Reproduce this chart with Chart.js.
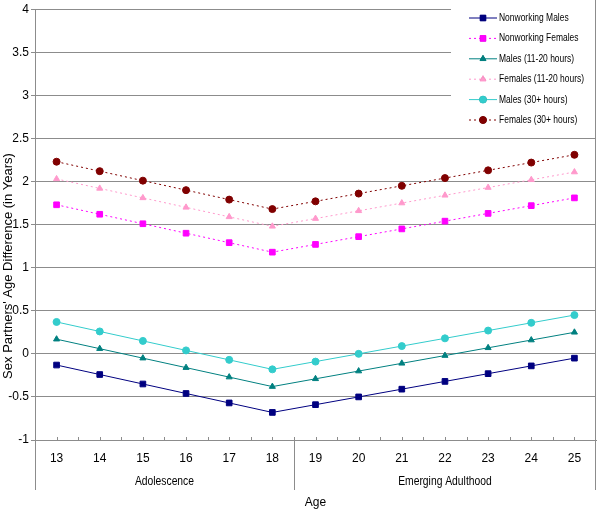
<!DOCTYPE html>
<html>
<head>
<meta charset="utf-8">
<script src="https://cdn.jsdelivr.net/npm/chart.js@4.4.1/dist/chart.umd.min.js"></script>
<style>
  html, body { margin: 0; padding: 0; background: #fff; }
  #wrap { width: 601px; height: 510px; }
</style>
</head>
<body>
<div id="wrap"><canvas id="ageChart" width="601" height="510"></canvas></div>
<script>
const ages = ['13', '14', '15', '16', '17', '18', '19', '20', '21', '22', '23', '24', '25'];
const groupNames = ['Adolescence', 'Emerging Adulthood'];
const groupSizes = [6, 7];
const yTicks = [-1, -0.5, 0, 0.5, 1, 1.5, 2, 2.5, 3, 3.5, 4];
const yTitle = "Sex Partners' Age Difference (in Years)";

const nonworkingMales   = [-0.13, -0.24, -0.35, -0.46, -0.57, -0.68, -0.59, -0.50, -0.41, -0.32, -0.23, -0.14, -0.05];
const nonworkingFemales = [1.73, 1.62, 1.51, 1.40, 1.29, 1.18, 1.27, 1.36, 1.45, 1.54, 1.63, 1.72, 1.81];
const males1120         = [0.17, 0.06, -0.05, -0.16, -0.27, -0.38, -0.29, -0.20, -0.11, -0.02, 0.07, 0.16, 0.25];
const females1120       = [2.03, 1.92, 1.81, 1.70, 1.59, 1.48, 1.57, 1.66, 1.75, 1.84, 1.93, 2.02, 2.11];
const males30           = [0.37, 0.26, 0.15, 0.04, -0.07, -0.18, -0.09, 0.00, 0.09, 0.18, 0.27, 0.36, 0.45];
const females30         = [2.23, 2.12, 2.01, 1.90, 1.79, 1.68, 1.77, 1.86, 1.95, 2.04, 2.13, 2.22, 2.31];

const FONT = '"Liberation Sans", Arial, sans-serif';
Chart.defaults.font.family = FONT;
Chart.defaults.font.size = 12;
Chart.defaults.color = '#000';

function series(label, data, color, style, dotted, radius) {
  return {
    label: label,
    data: data,
    borderColor: color,
    backgroundColor: color,
    borderWidth: 1,
    borderDash: dotted ? [2, 3] : [],
    pointStyle: style,
    pointRadius: radius,
    pointHoverRadius: radius,
    pointBorderWidth: 1,
    tension: 0
  };
}

const GRID = '#8c8c8c';

// text squeezed sideways, the reference font is a narrow one
function narrowText(ctx, text, x, y, squeeze) {
  ctx.save();
  ctx.translate(x, y);
  ctx.scale(squeeze, 1);
  ctx.fillText(text, 0, 0);
  ctx.restore();
}

// white legend box with line+marker samples, top right of the plot
const legendBox = {
  id: 'legendBox',
  beforeDatasetsDraw(chart) {
    const ctx = chart.ctx;
    ctx.save();
    ctx.fillStyle = '#fff';
    ctx.fillRect(451, 0, 148, 133);
    ctx.restore();
  },
  afterDraw(chart) {
    const ctx = chart.ctx;
    ctx.save();
    chart.data.datasets.forEach((ds, i) => {
      const y = 18 + i * 20.4;
      ctx.strokeStyle = ds.borderColor;
      ctx.lineWidth = 1;
      ctx.setLineDash(ds.borderDash);
      ctx.beginPath();
      ctx.moveTo(469, y);
      ctx.lineTo(497, y);
      ctx.stroke();
      ctx.setLineDash([]);
      Chart.helpers.drawPoint(ctx, {
        pointStyle: ds.pointStyle, radius: ds.pointRadius, borderWidth: 1, rotation: 0
      }, 483, y);
      ctx.fillStyle = ds.borderColor;
      ctx.fill();
      ctx.fillStyle = '#000';
      ctx.font = '11px ' + FONT;
      ctx.textBaseline = 'middle';
      ctx.textAlign = 'left';
      narrowText(ctx, ds.label, 499, y, 0.77);
    });
    ctx.restore();
  }
};

// border lines, small category ticks, group labels and y title
const groupAxis = {
  id: 'groupAxis',
  afterDraw(chart) {
    const ctx = chart.ctx;
    const x = chart.scales.x;
    const area = chart.chartArea;
    const bottom = 490;
    ctx.save();
    ctx.strokeStyle = GRID;
    ctx.lineWidth = 1;
    ctx.beginPath();
    ctx.moveTo(area.left + 0.5, area.top);
    ctx.lineTo(area.left + 0.5, bottom);
    ctx.moveTo(area.right - 0.5, 0);
    ctx.lineTo(area.right - 0.5, bottom);
    // small upward ticks at category centres and boundaries
    for (let i = 0; i < ages.length; i++) {
      const c = Math.round(x.getPixelForValue(i)) + 0.5;
      ctx.moveTo(c, area.bottom - 3);
      ctx.lineTo(c, area.bottom);
      if (i > 0) {
        const b = Math.round((x.getPixelForValue(i - 1) + x.getPixelForValue(i)) / 2) + 0.5;
        ctx.moveTo(b, area.bottom - 3);
        ctx.lineTo(b, area.bottom);
      }
    }
    let start = 0;
    const edges = [area.left];
    groupSizes.forEach((n) => {
      const end = start + n - 1;
      const right = end === ages.length - 1 ? area.right
        : (x.getPixelForValue(end) + x.getPixelForValue(end + 1)) / 2;
      edges.push(right);
      start += n;
    });
    for (let i = 1; i < edges.length - 1; i++) {
      const px = Math.round(edges[i]) + 0.5;
      ctx.moveTo(px, area.bottom);
      ctx.lineTo(px, bottom);
    }
    ctx.stroke();
    ctx.fillStyle = '#000';
    ctx.font = '12px ' + FONT;
    ctx.textAlign = 'center';
    ctx.textBaseline = 'middle';
    groupNames.forEach((name, gi) => {
      narrowText(ctx, name, (edges[gi] + edges[gi + 1]) / 2, 482, 0.86);
    });
    ctx.font = '13px ' + FONT;
    ctx.translate(8, 266);
    ctx.rotate(-Math.PI / 2);
    ctx.fillText(yTitle, 0, 0);
    ctx.restore();
  }
};

new Chart(document.getElementById('ageChart'), {
  type: 'line',
  data: {
    labels: ages,
    datasets: [
      series('Nonworking Males', nonworkingMales, '#000080', 'rect', false, 4),
      series('Nonworking Females', nonworkingFemales, '#ff00ff', 'rect', true, 4),
      series('Males (11-20 hours)', males1120, '#008080', 'triangle', false, 3.5),
      series('Females (11-20 hours)', females1120, '#ff99cc', 'triangle', true, 3.5),
      series('Males (30+ hours)', males30, '#33cccc', 'circle', false, 3.5),
      series('Females (30+ hours)', females30, '#800000', 'circle', true, 3.5)
    ]
  },
  options: {
    responsive: false,
    animation: false,
    layout: { padding: { top: 5, right: 1, left: 0, bottom: 0 } },
    plugins: {
      legend: { display: false },
      tooltip: { enabled: false }
    },
    scales: {
      x: {
        offset: true,
        grid: { display: false },
        border: { display: true, color: GRID },
        ticks: { padding: 3, maxRotation: 0, font: { size: 12 } },
        title: { display: true, text: 'Age', font: { size: 12 }, padding: { top: 0, bottom: 0 } },
        afterFit(scale) { scale.height = 70; }
      },
      y: {
        min: -1,
        max: 4,
        afterBuildTicks(scale) { scale.ticks = yTicks.map(v => ({ value: v })); },
        grid: { color: GRID, tickLength: 4 },
        border: { display: true, color: GRID },
        ticks: { padding: 2, font: { size: 12 }, callback: v => String(v) },
        afterFit(scale) { scale.width = 35; }
      }
    }
  },
  plugins: [legendBox, groupAxis]
});
</script>
</body>
</html>
